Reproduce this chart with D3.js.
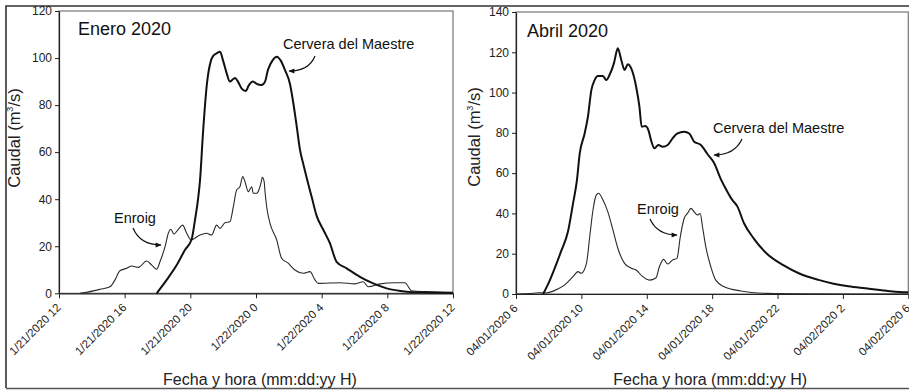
<!DOCTYPE html>
<html><head><meta charset="utf-8">
<script src="https://cdn.jsdelivr.net/npm/d3@7"></script>
<style>
html,body{margin:0;padding:0;background:#fff;}
svg{display:block;font-family:"Liberation Sans",Arial,sans-serif;}
</style></head><body>
<svg id="c" width="909" height="390"></svg>
<script>
// ---------- DATA ----------
// Left panel: hours since 1/21/2020 00:00
const eneroCerveraHours = [17.95,18.56,19.17,19.67,20.08,20.28,20.47,20.59,20.77,21.01,21.26,21.40,21.60,21.81,21.99,22.21,22.41,22.60,22.72,22.90,23.13,23.37,23.57,23.81,24.04,24.34,24.55,24.73,25.01,25.26,25.50,25.76,26.07,26.27,26.48,26.68,26.88,27.09,27.39,27.69,28.10,28.50,28.91,29.52,30.33,31.14,31.96,33.18,33.99,36.0];
const eneroCerveraFlow  = [0,5.7,12,18.4,23,31,40,48,68,89,99,101,102,102.7,99,93.6,90,91,91.5,90,87,86,88.5,90,89,88.5,90,95,99,100.6,99,95,89,81,71,61,55,49,41,33,27,21.3,13.4,10.6,7,4.2,2.1,0.7,0.4,0.2];
const eneroEnroigHours = [13.28,13.58,14.50,15.11,15.41,15.71,16.12,16.43,16.83,17.34,17.65,17.95,18.15,18.46,18.66,18.82,19.00,19.27,19.53,19.78,20.04,20.59,21.00,21.30,21.60,21.81,22.11,22.41,22.62,22.82,23.02,23.19,23.33,23.53,23.74,23.83,24.04,24.18,24.34,24.38,24.50,24.54,24.65,24.85,25.26,25.56,25.96,26.37,26.88,27.29,27.59,27.79,29.11,30.03,30.53,30.84,31.55,32.46,33.07,33.48,34.39,36.0];
const eneroEnroigFlow  = [0,0.3,1.7,2.8,5.7,9.6,10.6,11.6,11,13.7,12,10.2,13.4,19.8,25.5,27.2,25.2,27.2,29,25.5,22.7,24.8,25.5,24.8,29,27.6,30,30.4,36.8,43.9,45.3,49.6,47.4,43.2,45.3,42.5,42.5,44,48,49.3,47.4,43.9,36.8,29.8,22.7,14.9,12.8,9.9,8.5,9.2,5.7,4.2,4.5,4,4.9,2.8,4,4.5,4.5,1.1,0.7,0.3];

// Right panel: hours since 04/01/2020 00:00
const abrilCerveraHours = [7.66,7.97,8.33,8.75,9.18,9.49,9.72,9.90,10.20,10.40,10.61,10.81,11.01,11.32,11.52,11.72,11.99,12.23,12.44,12.64,12.84,13.05,13.35,13.55,13.69,13.90,14.10,14.26,14.47,14.71,14.97,15.28,15.58,15.88,16.29,16.60,16.90,17.31,17.71,18.12,18.53,18.93,19.23,19.54,19.95,20.56,21.35,22.38,23.30,24.51,25.43,26.34,27.36,28.66,29.87,30.0];
const abrilCerveraFlow  = [0,5,12,21,31,45,56,69.8,79.7,88,101.2,106.2,108.2,108.2,106.2,108.7,114.5,122,116.2,111.2,114.1,112,102.9,93,83,83.4,81.4,76.4,72.3,74,73.1,74,77.3,79.7,80.6,79.7,75.6,74,69.5,65,57,50.8,46.7,43.5,35.1,27.4,20,14.2,10.3,7,5.1,3.8,2.8,1.6,0.9,0.9];
const abrilEnroigHours = [6.0,6.85,7.34,7.77,8.38,8.98,9.49,9.79,10.00,10.31,10.51,10.71,10.91,11.05,11.32,11.62,11.93,12.23,12.64,13.05,13.35,13.75,14.16,14.57,14.77,15.03,15.28,15.58,15.85,16.05,16.29,16.49,16.70,16.90,17.10,17.27,17.41,17.61,17.92,18.22,18.73,19.75,21.37,23.30,30.0];
const abrilEnroigFlow  = [0,0.2,0.6,0.5,1.8,4.5,8.6,11.1,10.3,15.2,28.4,41.7,49.1,50,46.7,40.8,31.8,22.7,15.2,12.8,11.9,8.6,6.9,8.1,13.5,17.2,14.9,16.9,17.7,28.4,37.6,40,42.5,40.8,39.2,40,33.4,23.5,13.5,6.9,3.6,1.5,0.3,0.1,0];

// Axis ticks
const eneroXTicks = [12,16,20,24,28,32,36];
const eneroXLabels = ["1/21/2020 12","1/21/2020 16","1/21/2020 20","1/22/2020 0","1/22/2020 4","1/22/2020 8","1/22/2020 12"];
const eneroYTicks = [0,20,40,60,80,100,120];
const abrilXTicks = [6,10,14,18,22,26,30];
const abrilXLabels = ["04/01/2020 6","04/01/2020 10","04/01/2020 14","04/01/2020 18","04/01/2020 22","04/02/2020 2","04/02/2020 6"];
const abrilYTicks = [0,20,40,60,80,100,120,140];

// ---------- DRAW ----------
const svg = d3.select("#c");
const FONT = '"Liberation Sans",Arial,sans-serif';

// outer frame
svg.append("path").attr("d","M6,388V6H909").attr("fill","none").attr("stroke","#333").attr("stroke-width",1.6);
svg.append("path").attr("d","M6,388.5H909").attr("fill","none").attr("stroke","#555").attr("stroke-width",1.6);

svg.append("defs").append("marker").attr("id","ah").attr("viewBox","0 0 10 10")
  .attr("refX",9).attr("refY",5).attr("markerWidth",7).attr("markerHeight",6).attr("orient","auto")
  .attr("markerUnits","userSpaceOnUse")
  .append("path").attr("d","M0,1L10,5L0,9Z").attr("fill","#111");

function panel(cfg){
  const x = d3.scaleLinear().domain(cfg.xDomain).range([cfg.x0,cfg.x1]);
  const y = d3.scaleLinear().domain(cfg.yDomain).range([cfg.y0,cfg.y1]);
  const g = svg.append("g");
  // plot frame (gray)
  g.append("rect").attr("x",cfg.x0).attr("y",cfg.y1).attr("width",cfg.x1-cfg.x0).attr("height",cfg.y0-cfg.y1)
    .attr("fill","none").attr("stroke","#777").attr("stroke-width",1.2);
  // y axis
  const ya = g.append("g").attr("transform",`translate(${cfg.x0},0)`)
    .call(d3.axisLeft(y).tickValues(cfg.yTicks).tickSize(4).tickPadding(3).tickSizeOuter(0));
  ya.select(".domain").attr("stroke","#222").attr("stroke-width",1.2);
  ya.selectAll(".tick line").attr("stroke","#222");
  ya.selectAll("text").attr("font-family",FONT).attr("font-size",12).attr("fill","#222");
  // x axis
  const xa = g.append("g").attr("transform",`translate(0,${cfg.y0})`)
    .call(d3.axisBottom(x).tickValues(cfg.xTicks).tickFormat((d,i)=>cfg.xLabels[i]).tickSize(5).tickSizeOuter(0));
  xa.select(".domain").attr("stroke","#222").attr("stroke-width",1.2);
  xa.selectAll(".tick line").attr("stroke","#222");
  xa.selectAll("text").attr("font-family",FONT).attr("font-size",11.5).attr("fill","#222")
    .attr("text-anchor","end").attr("x",0).attr("y",0).attr("dy",0)
    .attr("transform","translate(2,15) rotate(-45)");
  // lines
  const line = d3.line().x(d=>x(d[0])).y(d=>y(d[1])).curve(d3.curveMonotoneX);
  g.append("path").datum(d3.zip(cfg.thinH,cfg.thinV)).attr("d",line)
    .attr("fill","none").attr("stroke","#2a2a2a").attr("stroke-width",1.1);
  g.append("path").datum(d3.zip(cfg.thickH,cfg.thickV)).attr("d",line)
    .attr("fill","none").attr("stroke","#111").attr("stroke-width",2);
  // title
  g.append("text").attr("x",cfg.titleX).attr("y",cfg.titleY).text(cfg.title)
    .attr("font-family",FONT).attr("font-size",18).attr("fill","#111");
  // axis titles
  g.append("text").attr("x",(cfg.x0+cfg.x1)/2 + cfg.xlabDx).attr("y",385).attr("text-anchor","middle")
    .text("Fecha y hora (mm:dd:yy H)").attr("font-family",FONT).attr("font-size",16).attr("fill","#222");
  const yl = g.append("text").attr("transform",`translate(${cfg.ylabX},${cfg.ylabY}) rotate(-90)`)
    .attr("text-anchor","middle").attr("font-family",FONT).attr("font-size",16.5).attr("fill","#222");
  yl.append("tspan").text("Caudal (m");
  yl.append("tspan").text("3").attr("font-size",9).attr("dy",-7);
  yl.append("tspan").text("/s)").attr("dy",7);
  // annotations
  cfg.notes.forEach(n=>{
    g.append("text").attr("x",n.tx).attr("y",n.ty).text(n.label)
      .attr("font-family",FONT).attr("font-size",14.5).attr("fill","#111");
    g.append("path").attr("d",n.path).attr("fill","none").attr("stroke","#111")
      .attr("stroke-width",1.2).attr("marker-end","url(#ah)");
  });
}

panel({
  xDomain:[12,36], yDomain:[0,120], x0:59, x1:453, y0:293.3, y1:11,
  xTicks:eneroXTicks, xLabels:eneroXLabels, yTicks:eneroYTicks,
  thickH:eneroCerveraHours, thickV:eneroCerveraFlow,
  thinH:eneroEnroigHours, thinV:eneroEnroigFlow,
  title:"Enero 2020", titleX:78, titleY:35, xlabDx:4, ylabX:20, ylabY:138,
  notes:[
    {label:"Cervera del Maestre", tx:283, ty:49, path:"M315,56 C311,66 302,71 289,71"},
    {label:"Enroig", tx:114, ty:223, path:"M133,228 C138,240 147,245 161,245"}
  ]
});
panel({
  xDomain:[6,30], yDomain:[0,140], x0:516, x1:908.3, y0:294, y1:12,
  xTicks:abrilXTicks, xLabels:abrilXLabels, yTicks:abrilYTicks,
  thickH:abrilCerveraHours, thickV:abrilCerveraFlow,
  thinH:abrilEnroigHours, thinV:abrilEnroigFlow,
  title:"Abril 2020", titleX:527, titleY:37, xlabDx:-2, ylabX:480, ylabY:137,
  notes:[
    {label:"Cervera del Maestre", tx:713, ty:133, path:"M742,139 C737,150 728,155 714,155"},
    {label:"Enroig", tx:637, ty:214, path:"M650,219 C655,230 664,235 677,235"}
  ]
});
</script></body></html>
